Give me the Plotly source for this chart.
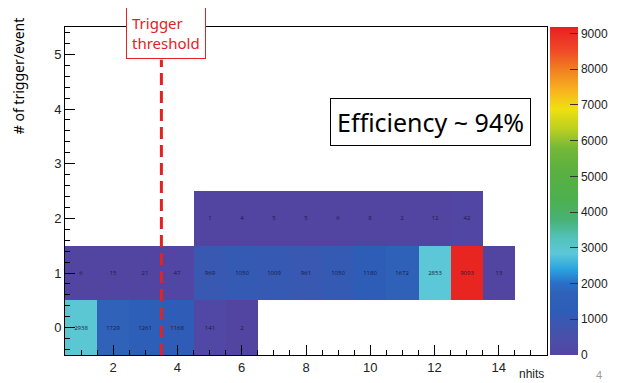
import plotly.graph_objects as go

# ---- data ----
nhits = list(range(1, 15))
trig_per_event = [0, 1, 2]
row0 = [2938, 1729, 1261, 1168, 141, 2, None, None, None, None, None, None, None, None]
row1 = [6, 15, 21, 47, 969, 1050, 1009, 961, 1050, 1180, 1672, 2853, 9093, 13]
row2 = [None, None, None, None, 1, 4, 5, 5, 6, 8, 2, 12, 42, None]
threshold = 3.5
z_max = 9180

z = [row0, row1, row2]
text = [["" if v is None else str(v) for v in r] for r in z]

colorscale = [
    [0.00, "#5245a2"],
    [0.05, "#4a4fa8"],
    [0.10, "#3a57b0"],
    [0.13, "#2d5db8"],
    [0.19, "#2f62b8"],
    [0.22, "#2a70c8"],
    [0.26, "#2aa2e0"],
    [0.31, "#5cc8d8"],
    [0.36, "#52c2b8"],
    [0.41, "#48b278"],
    [0.47, "#4cb050"],
    [0.56, "#5ab040"],
    [0.63, "#74b838"],
    [0.69, "#bcd020"],
    [0.75, "#f0e010"],
    [0.81, "#f8b020"],
    [0.87, "#f08020"],
    [0.93, "#f04828"],
    [1.00, "#e82020"],
]

fig = go.Figure()
fig.add_trace(go.Heatmap(
    x=nhits, y=trig_per_event, z=z, text=text,
    texttemplate="%{text}", textfont=dict(size=6, color="#1a1a40"),
    colorscale=colorscale, zmin=0, zmax=z_max, xgap=0, ygap=0,
    hoverongaps=False,
    colorbar=dict(
        x=1.006, xanchor="left", y=0.5, yanchor="middle", len=1.0, lenmode="fraction",
        thickness=28, outlinewidth=0, xpad=0, ypad=0,
        tickmode="array", tickvals=list(range(0, 10000, 1000)),
        ticks="inside", ticklen=8, tickcolor="#333", tickwidth=1,
        tickfont=dict(size=12, color="#222", family="Liberation Sans, Arial"),
    ),
))

fig.add_shape(type="line", xref="x", yref="y", x0=threshold, x1=threshold, y0=-0.5, y1=4.9,
              line=dict(color="#e52222", width=3, dash="12px,6px"))

axis_font = dict(size=13, color="#222", family="Liberation Sans, Arial")
fig.update_xaxes(range=[0.5, 15.5], showgrid=False, zeroline=False,
                 showline=True, linecolor="black", linewidth=1, mirror=True,
                 tickmode="array", tickvals=[2, 4, 6, 8, 10, 12, 14],
                 ticks="inside", ticklen=10, tickcolor="black",
                 minor=dict(dtick=0.5, ticks="inside", ticklen=5, tickcolor="black"),
                 tickfont=axis_font)
fig.update_yaxes(range=[-0.5, 5.5], showgrid=False, zeroline=False,
                 showline=True, linecolor="black", linewidth=1, mirror=True,
                 tickmode="array", tickvals=[0, 1, 2, 3, 4, 5],
                 ticks="inside", ticklen=10, tickcolor="black",
                 minor=dict(dtick=0.2, ticks="inside", ticklen=5, tickcolor="black"),
                 tickfont=axis_font)

fig.add_annotation(xref="paper", yref="paper", x=0.759, y=0.71, xanchor="center", yanchor="middle",
                   text="Efficiency ~ 94%", showarrow=False,
                   font=dict(size=25, color="black", family="Noto Sans"),
                   bordercolor="black", borderwidth=1, borderpad=6, bgcolor="white")
fig.add_annotation(xref="paper", yref="paper", x=0.21, y=0.983, xanchor="center", yanchor="middle",
                   text="Trigger<br>threshold", showarrow=False, align="left",
                   font=dict(size=15, color="#e52222", family="Noto Sans"),
                   bordercolor="#e52222", borderwidth=1, borderpad=5, bgcolor="white")
fig.add_annotation(xref="paper", yref="paper", x=-0.097, y=1.035, xanchor="center", yanchor="top",
                   text="# of trigger/event", textangle=-90, showarrow=False,
                   font=dict(size=14, color="black", family="Noto Sans"))
fig.add_annotation(xref="paper", yref="paper", x=0.967, y=-0.084, xanchor="center", yanchor="bottom",
                   text="nhits", showarrow=False,
                   font=dict(size=12, color="#222", family="Liberation Sans, Arial"))
fig.add_annotation(xref="paper", yref="paper", x=1.107, y=-0.084, xanchor="center", yanchor="bottom",
                   text="4", showarrow=False,
                   font=dict(size=11, color="#999", family="Liberation Sans, Arial"))

# the page adds an 8px body margin, so the figure is sized to fit the window
fig.update_layout(width=611, height=375,
                  margin=dict(l=57, r=72, t=19, b=28, autoexpand=False),
                  plot_bgcolor="white", paper_bgcolor="white", showlegend=False)

fig.write_html("out.html")
